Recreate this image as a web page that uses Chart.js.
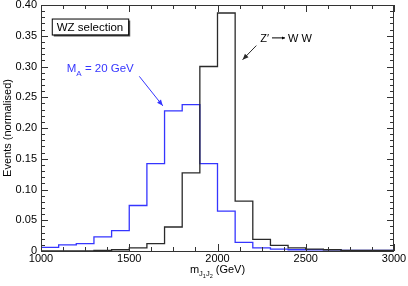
<!DOCTYPE html>
<html>
<head>
<meta charset="utf-8">
<script src="https://cdn.jsdelivr.net/npm/chart.js@4/dist/chart.umd.min.js"></script>
<style>
    html, body { margin: 0; padding: 0; background: #ffffff; }
    #wrap { width: 408px; height: 286px; }
</style>
</head>
<body>
<div id="wrap"><canvas id="grafico" width="408" height="286"></canvas></div>
<script>
// lower edges of the 100 GeV bins
const binsLow = [1000, 1100, 1200, 1300, 1400, 1500, 1600, 1700, 1800, 1900,
                 2000, 2100, 2200, 2300, 2400, 2500, 2600, 2700, 2800, 2900];
const binEnd = 3000;

// M_A = 20 GeV (blue)
const valoresMA = [0.006, 0.010, 0.012, 0.023, 0.033, 0.074, 0.142, 0.228, 0.238, 0.142,
                   0.065, 0.014, 0.005, 0.003, 0.002, 0.002, 0.002, 0.001, 0.001, 0.001];

// Z' -> W W (black)
const valoresZ = [0.000, 0.000, 0.000, 0.001, 0.002, 0.005, 0.012, 0.039, 0.127, 0.300,
                  0.387, 0.081, 0.019, 0.009, 0.005, 0.003, 0.002, 0.001, 0.001, 0.001];

const xTicks = [1000, 1500, 2000, 2500, 3000];
const yTicks = [0, 0.05, 0.10, 0.15, 0.20, 0.25, 0.30, 0.35, 0.40];

const AZUL = '#3535ff';
const PRETO = '#2a2a2a';
const FONTE = '"Liberation Sans", Arial, sans-serif';

function pontosHist(valores) {
    const pts = binsLow.map((x, i) => ({ x: x, y: valores[i] }));
    pts.push({ x: binEnd, y: valores[valores.length - 1] });
    return pts;
}

function seta(ctx, x1, y1, x2, y2, cor, len, larg) {
    ctx.save();
    ctx.strokeStyle = cor;
    ctx.fillStyle = cor;
    ctx.lineWidth = 1;
    ctx.beginPath();
    ctx.moveTo(x1, y1);
    ctx.lineTo(x2, y2);
    ctx.stroke();
    const ang = Math.atan2(y2 - y1, x2 - x1);
    ctx.beginPath();
    ctx.moveTo(x2, y2);
    ctx.lineTo(x2 - len * Math.cos(ang) + larg * Math.sin(ang), y2 - len * Math.sin(ang) - larg * Math.cos(ang));
    ctx.lineTo(x2 - len * Math.cos(ang) - larg * Math.sin(ang), y2 - len * Math.sin(ang) + larg * Math.cos(ang));
    ctx.closePath();
    ctx.fill();
    ctx.restore();
}

// frame, inward ticks, titles and labels
const moldura = {
    id: 'moldura',
    afterDraw(chart) {
        const ctx = chart.ctx;
        const a = chart.chartArea;
        const xs = chart.scales.x;
        const ys = chart.scales.y;

        ctx.save();
        ctx.strokeStyle = '#333';
        ctx.lineWidth = 1;
        ctx.strokeRect(a.left + 0.5, a.top + 0.5, a.right - a.left - 1, a.bottom - a.top);

        ctx.beginPath();
        for (let v = 1000; v <= 3000; v += 125) {
            const px = Math.round(xs.getPixelForValue(v)) + 0.5;
            const l = (v % 500 === 0) ? 7 : 4;
            ctx.moveTo(px, a.bottom); ctx.lineTo(px, a.bottom - l);
            ctx.moveTo(px, a.top); ctx.lineTo(px, a.top + l);
        }
        for (let k = 0; k <= 40; k++) {
            const py = Math.round(ys.getPixelForValue(k / 100)) + 0.5;
            const l = (k % 5 === 0) ? 7 : 4;
            ctx.moveTo(a.left, py); ctx.lineTo(a.left + l, py);
            ctx.moveTo(a.right, py); ctx.lineTo(a.right - l, py);
        }
        ctx.stroke();

        // y title
        ctx.fillStyle = '#000';
        ctx.font = '11px ' + FONTE;
        ctx.textAlign = 'center';
        ctx.textBaseline = 'middle';
        ctx.save();
        ctx.translate(8, (a.top + a.bottom) / 2);
        ctx.rotate(-Math.PI / 2);
        ctx.fillText('Events (normalised)', 0, 0);
        ctx.restore();

        // x title: m_{J1 J2} (GeV)
        ctx.textAlign = 'left';
        ctx.textBaseline = 'alphabetic';
        const partes = [
            { t: 'm', f: 11, dy: 0 },
            { t: 'J', f: 7.5, dy: 3 },
            { t: '1', f: 5.5, dy: 5 },
            { t: 'J', f: 7.5, dy: 3 },
            { t: '2', f: 5.5, dy: 5 },
            { t: ' (GeV)', f: 11, dy: 0 }
        ];
        let total = 0;
        partes.forEach(p => { ctx.font = p.f + 'px ' + FONTE; total += ctx.measureText(p.t).width; });
        let cx = (a.left + a.right) / 2 - total / 2;
        const base = 273;
        partes.forEach(p => {
            ctx.font = p.f + 'px ' + FONTE;
            ctx.fillText(p.t, cx, base + p.dy);
            cx += ctx.measureText(p.t).width;
        });

        // WZ selection box
        const bx = xs.getPixelForValue(1061);
        const by = ys.getPixelForValue(0.378);
        ctx.font = '11.5px ' + FONTE;
        const bw = ctx.measureText('WZ selection').width + 10;
        const bh = 16;
        ctx.fillStyle = '#555';
        ctx.fillRect(bx + 2, by + 2, bw, bh);
        ctx.fillStyle = '#fff';
        ctx.fillRect(bx, by, bw, bh);
        ctx.strokeStyle = '#000';
        ctx.strokeRect(bx + 0.5, by + 0.5, bw, bh);
        ctx.fillStyle = '#000';
        ctx.fillText('WZ selection', bx + 5, by + 12);

        // M_A = 20 GeV
        let mx = xs.getPixelForValue(1146);
        const my = ys.getPixelForValue(0.2915);
        ctx.fillStyle = AZUL;
        ctx.font = '11.5px ' + FONTE;
        ctx.fillText('M', mx, my);
        mx += ctx.measureText('M').width;
        ctx.font = '8px ' + FONTE;
        ctx.fillText('A', mx, my + 4);
        mx += ctx.measureText('A').width;
        ctx.font = '11.5px ' + FONTE;
        ctx.fillText(' = 20 GeV', mx, my);
        seta(ctx, xs.getPixelForValue(1557), ys.getPixelForValue(0.284),
             xs.getPixelForValue(1690), ys.getPixelForValue(0.236), AZUL, 6, 2.5);

        // Z' -> W W  (arrow between the words drawn as a line)
        ctx.fillStyle = '#000';
        ctx.font = '11px ' + FONTE;
        let zx = xs.getPixelForValue(2242);
        const zy = ys.getPixelForValue(0.340);
        ctx.fillText('Z\u2032', zx, zy);
        zx += ctx.measureText('Z\u2032').width + 3;
        seta(ctx, zx, zy - 4, zx + 13, zy - 4, '#000', 3, 1.5);
        zx += 16;
        ctx.fillText('W W', zx, zy);
        seta(ctx, xs.getPixelForValue(2220), ys.getPixelForValue(0.334),
             xs.getPixelForValue(2142), ys.getPixelForValue(0.311), PRETO, 6, 2.5);

        ctx.restore();
    }
};

const config = {
    type: 'line',
    data: {
        datasets: [{
                label: 'Z\u2032 \u2192 W W',
                data: pontosHist(valoresZ),
                borderColor: PRETO,
                borderWidth: 1.3,
                stepped: 'before',
                pointRadius: 0,
                fill: false
            },
            {
                label: 'M_A = 20 GeV',
                data: pontosHist(valoresMA),
                borderColor: AZUL,
                borderWidth: 1.3,
                stepped: 'before',
                pointRadius: 0,
                fill: false
            }
        ]
    },
    options: {
        responsive: false,
        animation: false,
        events: [],
        layout: { padding: { top: 5, right: 14, left: 0, bottom: 0 } },
        plugins: {
            legend: { display: false },
            tooltip: { enabled: false }
        },
        scales: {
            x: {
                type: 'linear',
                min: 1000,
                max: 3000,
                afterFit(scale) { scale.height = 35; },
                afterBuildTicks(scale) { scale.ticks = xTicks.map(v => ({ value: v })); },
                grid: { display: false, drawTicks: false },
                border: { display: false },
                ticks: {
                    autoSkip: false,
                    maxRotation: 0,
                    padding: 1,
                    color: '#000',
                    font: { family: FONTE, size: 11 },
                    callback: v => String(v)
                }
            },
            y: {
                min: 0,
                max: 0.4,
                afterFit(scale) {
                    scale.width = 41;
                    scale.paddingTop = 0;
                    scale.paddingBottom = 0;
                },
                afterBuildTicks(scale) { scale.ticks = yTicks.map(v => ({ value: v })); },
                grid: { display: false, drawTicks: false },
                border: { display: false },
                ticks: {
                    autoSkip: false,
                    padding: 4,
                    color: '#000',
                    font: { family: FONTE, size: 11 },
                    callback: v => v === 0 ? '0' : v.toFixed(2)
                }
            }
        }
    },
    plugins: [moldura]
};

const grafico = new Chart(document.getElementById('grafico'), config);
</script>
</body>
</html>
